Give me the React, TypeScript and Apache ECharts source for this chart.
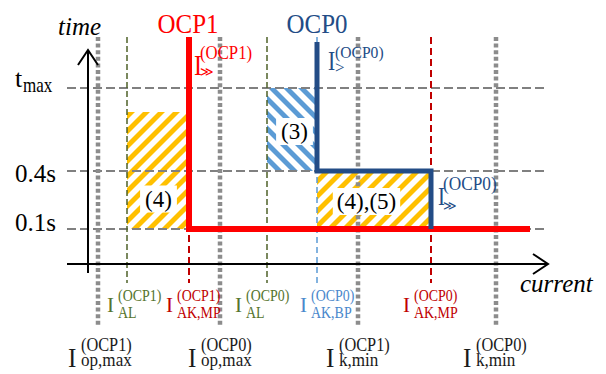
import React, { useEffect, useRef } from 'react';
import * as echarts from 'echarts';

// ---------------- data (schematic units: x = current, y = time) ----------------
const opMaxLevels = [10, 132]; // I_op,max OCP1 / OCP0
const kMinLevels = [270, 408]; // I_k,min OCP1 / OCP0
const alLevels = [39, 179]; // I_AL OCP1 / OCP0
const akMpLevels = [101, 343]; // I_AK,MP OCP1 / OCP0
const akBpLevels = [229]; // I_AK,BP OCP0
const timeLevels = [35, 93, 176]; // 0.1s, 0.4s, t_max
const timeTickLabels = ['0.1s', '0.4s', 't'];
const ocp1Curve = [[101, 227], [101, 35], [442, 35]];
const ocp0Curve = [[229, 222], [229, 93], [343, 93], [343, 35]];
const yellowZones = [[39, 101, 35, 152], [229, 343, 35, 93]];
const blueZones = [[179, 229, 93, 176]];
const zoneNames = ['(4)', '(3)', '(4),(5)'];
const zoneNamePoints = [[70.5, 65], [206.5, 132.5], [278.5, 62.5]];
const currentAxis = [[-21, 0], [460, 0]];
const timeAxis = [[0, -9], [0, 214]];
const hLineExtent = [-21, 460];
const vLineTop = 227;
const dottedBottom = -62;
const dashedBottom = -19;

const row1Levels = [alLevels[0], akMpLevels[0], alLevels[1], akBpLevels[0], akMpLevels[1]];
const row1Sup = ['(OCP1)', '(OCP1)', '(OCP0)', '(OCP0)', '(OCP0)'];
const row1Sub = ['AL', 'AK,MP', 'AL', 'AK,BP', 'AK,MP'];
const row2Levels = [opMaxLevels[0], opMaxLevels[1], kMinLevels[0], kMinLevels[1]];
const row2Sup = ['(OCP1)', '(OCP0)', '(OCP1)', '(OCP0)'];
const row2Sub = ['op,max', 'op,max', 'k,min', 'k,min'];
const pickupLevels = [akMpLevels[0], akBpLevels[0], akMpLevels[1]];
const pickupSup = ['(OCP1)', '(OCP0)', '(OCP0)'];
const pickupSub = ['≫', '>', '≫'];
const curveNames = ['OCP1', 'OCP0'];
const curveNameLevels = [akMpLevels[0], akBpLevels[0]];

// ---------------- styles ----------------
const SERIF = 'Liberation Serif';
const SYMBOL_FONT = 'DejaVu Sans';
const RED = '#ff0000';
const RED_DARK = '#c00000';
const BLUE_DARK = '#234c86';
const BLUE_LIGHT = '#4a88cc';
const GREEN_LINE = '#4f6228';
const GREEN_TEXT = '#55742e';
const GRAY_DOT = '#8c8c8c';
const GRAY_DASH = '#808080';
const YELLOW = '#ffc000';
const BLUE_HATCH = '#5b9bd5';
const TEXT = '#1a1a1a';

const row1Y = -48;
const row2Y = -103;
const row1Dx = [-20, -23, -32, -17, -28];
const row1Colors = [GREEN_TEXT, RED_DARK, GREEN_TEXT, BLUE_LIGHT, RED_DARK];
const row2Dx = [-30, -32, -32, -33];
const pickupY = [189, 194, 59];
const pickupDx = [5, 11, 7];
const pickupISize = [30, 27, 26];
const pickupSupDx = [11, 18, 12];
const pickupSupDy = [-15.5, -12, -15];
const pickupSupSize = [18, 17, 18];
const pickupSupSx = [0.93, 0.92, 0.96];
const pickupSubDy = [0.5, 3, 4.5];
const pickupColors = [RED, BLUE_DARK, BLUE_DARK];

type Piece = {
  x: number; y: number; dx: number; dy: number; text: string; size: number;
  sx?: number; color: string; italic?: boolean; family?: string; align?: string;
  mid?: boolean; bg?: string; padding?: number[];
};

function buildPieces(): Piece[] {
  const ps: Piece[] = [];
  // bottom row 1
  row1Levels.forEach((lv, i) => {
    const dx = row1Dx[i];
    const c = row1Colors[i];
    ps.push({ x: lv, y: row1Y, dx, dy: 0, text: 'I', size: 21, color: c });
    ps.push({ x: lv, y: row1Y, dx: dx + 11, dy: -11, text: row1Sup[i], size: 17, sx: 0.82, color: c });
    ps.push({ x: lv, y: row1Y, dx: dx + 11, dy: 6, text: row1Sub[i], size: 17, sx: 0.82, color: c });
  });
  // bottom row 2
  row2Levels.forEach((lv, i) => {
    const dx = row2Dx[i];
    ps.push({ x: lv, y: row2Y, dx, dy: 0, text: 'I', size: 28, sx: 0.9, color: TEXT });
    ps.push({ x: lv, y: row2Y, dx: dx + 13, dy: -16, text: row2Sup[i], size: 19, sx: 0.86, color: TEXT });
    ps.push({ x: lv, y: row2Y, dx: dx + 13, dy: -1, text: row2Sub[i], size: 19, sx: 0.9, color: TEXT });
  });
  // pickup labels near curves
  pickupLevels.forEach((lv, i) => {
    const c = pickupColors[i];
    const y = pickupY[i];
    ps.push({ x: lv, y, dx: pickupDx[i], dy: 0, text: 'I', size: pickupISize[i], sx: 0.8, color: c });
    ps.push({ x: lv, y, dx: pickupSupDx[i], dy: pickupSupDy[i], text: pickupSup[i], size: pickupSupSize[i], sx: pickupSupSx[i], color: c });
    const isDouble = pickupSub[i] === '≫';
    ps.push({
      x: lv, y, dx: pickupSupDx[i], dy: pickupSubDy[i], text: pickupSub[i],
      size: isDouble ? 13 : 17, color: c, family: isDouble ? SYMBOL_FONT : SERIF,
    });
  });
  // curve names
  curveNames.forEach((n, i) => {
    ps.push({ x: curveNameLevels[i], y: 231, dx: i === 0 ? -1 : 0, dy: 0, text: n, size: 28, sx: 0.89, color: i === 0 ? RED : BLUE_DARK, align: 'center' });
  });
  // axis names
  ps.push({ x: 0, y: 229, dx: -30, dy: 0, text: 'time', size: 25, italic: true, color: '#000' });
  ps.push({ x: currentAxis[1][0], y: 0, dx: -28, dy: 28, text: 'current', size: 25, italic: true, color: '#000' });
  // time ticks
  const tickDy = [2, 11, -1];
  timeLevels.forEach((t, i) => {
    ps.push({ x: -73, y: t, dx: 0, dy: tickDy[i], text: timeTickLabels[i], size: i === 2 ? 26 : 25, color: '#000' });
  });
  ps.push({ x: -73, y: timeLevels[2], dx: 8, dy: 4, text: 'max', size: 20, sx: 0.85, color: '#000' });
  // zone names
  zoneNames.forEach((n, i) => {
    ps.push({
      x: zoneNamePoints[i][0], y: zoneNamePoints[i][1], dx: 0, dy: 0, text: n, size: 23,
      color: '#000', align: 'center', mid: true, bg: '#ffffff', padding: i === 2 ? [2, 4, 2, 4] : [2, 5, 2, 5],
    });
  });
  return ps;
}

type Pt = number[];
function clipEdge(pts: Pt[], inside: (p: Pt) => boolean, inter: (a: Pt, b: Pt) => Pt): Pt[] {
  const out: Pt[] = [];
  for (let i = 0; i < pts.length; i++) {
    const cur = pts[i];
    const prev = pts[(i + pts.length - 1) % pts.length];
    const ci = inside(cur);
    const pi = inside(prev);
    if (ci) {
      if (!pi) out.push(inter(prev, cur));
      out.push(cur);
    } else if (pi) {
      out.push(inter(prev, cur));
    }
  }
  return out;
}
const ix = (X: number) => (a: Pt, b: Pt): Pt => {
  const t = (X - a[0]) / (b[0] - a[0]);
  return [X, a[1] + t * (b[1] - a[1])];
};
const iy = (Y: number) => (a: Pt, b: Pt): Pt => {
  const t = (Y - a[1]) / (b[1] - a[1]);
  return [a[0] + t * (b[0] - a[0]), Y];
};
function clipRect(poly: Pt[], X0: number, Y0: number, X1: number, Y1: number): Pt[] {
  let p = poly;
  p = clipEdge(p, (q) => q[0] >= X0, ix(X0));
  if (!p.length) return p;
  p = clipEdge(p, (q) => q[0] <= X1, ix(X1));
  if (!p.length) return p;
  p = clipEdge(p, (q) => q[1] >= Y0, iy(Y0));
  if (!p.length) return p;
  p = clipEdge(p, (q) => q[1] <= Y1, iy(Y1));
  return p;
}

function renderHatch(params: any, api: any) {
  const tl = api.coord([api.value(0), api.value(3)]);
  const br = api.coord([api.value(1), api.value(2)]);
  const kind = api.value(4);
  const X0 = tl[0], Y0 = tl[1], X1 = br[0], Y1 = br[1];
  const step = 15;
  const band = 7;
  const yA = Y0 - 5, yB = Y1 + 5;
  const children: any[] = [];
  const color = kind === 0 ? YELLOW : BLUE_HATCH;
  if (kind === 0) {
    const cMin = X0 + Y0 - band - step, cMax = X1 + Y1 + step;
    for (let c = Math.floor(cMin / step) * step; c <= cMax; c += step) {
      const poly = [[c - yA, yA], [c + band - yA, yA], [c + band - yB, yB], [c - yB, yB]];
      const cl = clipRect(poly, X0, Y0, X1, Y1);
      if (cl.length >= 3) children.push({ type: 'polygon', shape: { points: cl }, style: { fill: color } });
    }
  } else {
    const cMin = X0 - Y1 - band - step, cMax = X1 - Y0 + step;
    for (let c = Math.floor(cMin / step) * step; c <= cMax; c += step) {
      const poly = [[c + yA, yA], [c + band + yA, yA], [c + band + yB, yB], [c + yB, yB]];
      const cl = clipRect(poly, X0, Y0, X1, Y1);
      if (cl.length >= 3) children.push({ type: 'polygon', shape: { points: cl }, style: { fill: color } });
    }
  }
  return { type: 'group', children };
}

function renderAxis(params: any, api: any) {
  const a = api.coord([api.value(0), api.value(1)]);
  const b = api.coord([api.value(2), api.value(3)]);
  const dx = b[0] - a[0], dy = b[1] - a[1];
  const len = Math.hypot(dx, dy);
  const ux = dx / len, uy = dy / len;
  const back = 15, half = 10;
  const p1 = [b[0] - ux * back - uy * half, b[1] - uy * back + ux * half];
  const p2 = [b[0] - ux * back + uy * half, b[1] - uy * back - ux * half];
  return {
    type: 'group',
    children: [
      { type: 'line', shape: { x1: a[0], y1: a[1], x2: b[0], y2: b[1] }, style: { stroke: '#000', lineWidth: 2 } },
      { type: 'polyline', shape: { points: [p1, [b[0], b[1]], p2] }, style: { stroke: '#000', lineWidth: 2, fill: null } },
    ],
  };
}

function lineSeries(data: number[][], color: string, width: number, dash: any, z: number) {
  return {
    type: 'line', data, symbol: 'none', clip: false, silent: true, z,
    lineStyle: { color, width, type: dash, cap: 'butt', join: 'miter' },
  };
}

function buildOption() {
  const pieces = buildPieces();
  const series: any[] = [];
  series.push({
    type: 'custom', renderItem: renderHatch, clip: false, silent: true, z: 1,
    data: [...yellowZones.map((z) => [...z, 0]), ...blueZones.map((z) => [...z, 1])],
  });
  timeLevels.forEach((t) => series.push(lineSeries([[hLineExtent[0], t], [hLineExtent[1], t]], GRAY_DASH, 2, [9, 4], 2)));
  [...opMaxLevels, ...kMinLevels].forEach((x) => series.push(lineSeries([[x, vLineTop], [x, dottedBottom]], GRAY_DOT, 4.5, [4, 2.6], 2)));
  alLevels.forEach((x) => series.push(lineSeries([[x, vLineTop], [x, dashedBottom]], GREEN_LINE, 1.5, [6, 3], 2)));
  akMpLevels.forEach((x) => series.push(lineSeries([[x, vLineTop], [x, dashedBottom]], RED_DARK, 2, [7, 4], 2)));
  akBpLevels.forEach((x) => series.push(lineSeries([[x, vLineTop], [x, dashedBottom]], BLUE_HATCH, 1.5, [6, 4], 2)));
  series.push({
    type: 'custom', renderItem: renderAxis, clip: false, silent: true, z: 3,
    data: [[...currentAxis[0], ...currentAxis[1]], [...timeAxis[0], ...timeAxis[1]]],
  });
  series.push(lineSeries(ocp1Curve, RED, 6, 'solid', 4));
  series.push(lineSeries(ocp0Curve, BLUE_DARK, 5, 'solid', 4));
  series.push({
    type: 'custom', clip: false, silent: true, z: 5,
    data: pieces.map((p) => [p.x, p.y]),
    renderItem: (params: any, api: any) => {
      const p = pieces[params.dataIndex];
      const c = api.coord([p.x, p.y]);
      const y = c[1] + p.dy - (p.mid ? 0 : 0.34 * p.size);
      const style: any = {
        text: p.text, fontSize: p.size, fontFamily: p.family || SERIF,
        fontStyle: p.italic ? 'italic' : 'normal', fill: p.color,
        align: p.align || 'left', verticalAlign: 'middle',
      };
      if (p.bg) {
        style.backgroundColor = p.bg;
        style.padding = p.padding;
      }
      return { type: 'text', x: c[0] + p.dx, y, scaleX: p.sx || 1, scaleY: 1, style };
    },
  });
  return {
    animation: false,
    backgroundColor: '#ffffff',
    grid: { left: 0, right: 0, top: 0, bottom: 0 },
    xAxis: { type: 'value', min: -88, max: 518, show: false },
    yAxis: { type: 'value', min: -110, max: 264, show: false },
    series,
  };
}

export default function App() {
  const ref = useRef<HTMLDivElement>(null);
  useEffect(() => {
    const chart = echarts.init(ref.current as HTMLDivElement, null, { renderer: 'svg' });
    chart.setOption(buildOption() as any);
    return () => chart.dispose();
  }, []);
  return (
    <div
      ref={ref}
      style={{ position: 'fixed', left: 0, top: 0, width: 606, height: 374, background: '#ffffff' }}
    />
  );
}
